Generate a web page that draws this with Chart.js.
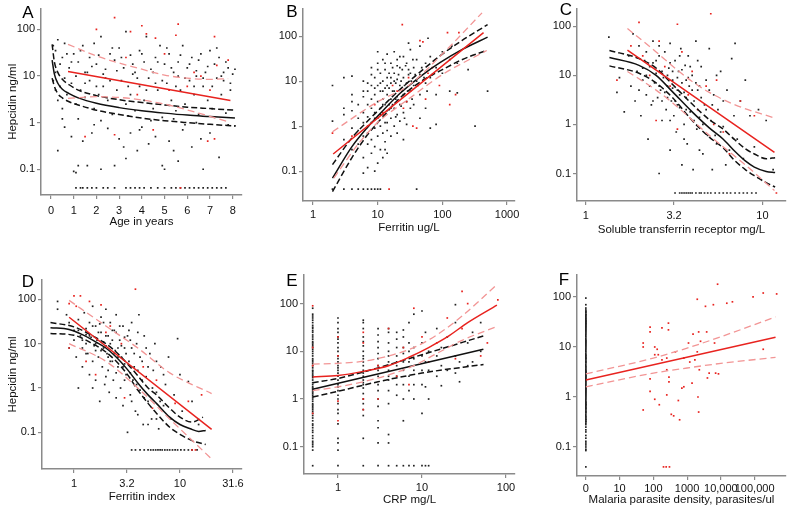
<!DOCTYPE html>
<html>
<head>
<meta charset="utf-8">
<script src="https://cdn.jsdelivr.net/npm/chart.js@4/dist/chart.umd.min.js"></script>
<style>
  body { margin: 0; background: #fff; }
  #wrap { position: relative; width: 790px; height: 508px; }
  #wrap canvas { position: absolute; left: 0; top: 0; }
</style>
</head>
<body>
<div id="wrap">
  <canvas id="pA" width="790" height="508"></canvas>
  <canvas id="pB" width="790" height="508"></canvas>
  <canvas id="pC" width="790" height="508"></canvas>
  <canvas id="pD" width="790" height="508"></canvas>
  <canvas id="pE" width="790" height="508"></canvas>
  <canvas id="pF" width="790" height="508"></canvas>
</div>
<script>
// shared hepcidin axis
const yTicks = [0.1, 1, 10, 100];
const yTickLabels = ['0.1', '1', '10', '100'];

// A: age
const ageTicks = [0, 1, 2, 3, 4, 5, 6, 7, 8];
const ageTickLabels = ['0', '1', '2', '3', '4', '5', '6', '7', '8'];
const aBlack = [
  [0.1,45],[0.2,35],[0.3,60],[0.5,25],[0.6,50],[0.8,15],[1.0,30],[1.2,20],[1.4,45],[1.5,12],[1.7,25],[1.9,50],
  [2.0,18],[2.2,70],[2.4,14],[2.6,30],[2.8,22],[3.0,40],[3.2,15],[3.3,90],[3.5,28],[3.7,12],[3.9,35],[4.1,20],
  [4.2,70],[4.4,14],[4.6,25],[4.8,45],[5.0,18],[5.2,30],[5.4,12],[5.6,20],[5.8,45],[6.0,15],[6.2,25],[6.4,10],
  [6.6,30],[6.8,12],[7.0,35],[7.2,18],[7.4,25],[7.6,12],[7.8,15],[8.0,11],
  [0.1,8],[0.2,5],[0.3,3],[0.4,6],[0.5,2],[0.7,4],[0.9,7],[1.1,2.5],[1.3,5],[1.5,3.5],[1.7,8],[1.9,2],[2.1,4],
  [2.3,6],[2.5,3],[2.7,1.5],[2.9,5],[3.1,8],[3.3,2.5],[3.5,4],[3.7,1.8],[3.9,6],[4.1,3],[4.3,9],[4.5,2],[4.7,5],
  [4.9,1.3],[5.1,7],[5.3,3],[5.5,1.8],[5.7,5],[5.9,2.5],[6.1,8],[6.3,4],[6.5,1.5],[6.7,6],[6.9,3],[7.1,2],[7.3,9],
  [7.5,4],[7.7,1.6],[7.9,5],[8.1,0.85],[1.6,12],[2.4,9],[3.6,11],[4.6,7],[5.6,10],[6.4,13],[7.6,8],
  [0.2,12],[0.4,18],[0.6,9],[0.7,30],[0.9,20],[1.1,10],[1.3,35],[1.5,7],[1.8,16],[2.0,6],[2.1,28],[2.3,11],[2.6,8],
  [2.7,40],[2.9,13],[3.1,25],[3.4,6],[3.6,18],[3.8,9],[4.0,30],[4.2,5],[4.5,12],[4.7,20],[4.9,8],[5.1,40],[5.3,15],
  [5.5,6],[5.7,28],[5.9,9],[6.1,18],[6.3,6],[6.5,22],[6.7,9],[6.9,16],[7.1,6],[7.3,40],[7.5,10],[7.7,20],[7.9,7],
  [8.1,14],[1.2,1.2],[2.2,1.1],[3.4,1.4],[4.4,1.1],[5.4,1.2],[6.4,1.0],[7.2,1.3],[0.5,1.2],[1.9,0.9],[3.9,0.7],[5.9,0.9],
  [0.3,0.25],[0.6,0.8],[0.9,0.5],[1.0,0.09],[1.1,0.085],[1.2,0.12],[1.4,0.4],[1.6,0.12],[1.8,0.6],[2.2,0.1],
  [2.5,0.75],[2.8,0.12],[3.0,0.45],[3.2,0.3],[3.3,0.17],[3.5,0.6],[3.8,0.25],[4.0,0.8],[4.3,0.35],[4.6,0.5],
  [4.9,0.12],[5.0,0.1],[5.2,0.4],[5.4,0.25],[5.6,0.15],[5.8,0.7],[6.2,0.3],[6.6,0.45],[6.7,0.1],[7.0,0.6],
  [7.4,0.18],[7.8,0.9],
  [1.1,0.04],[1.3,0.04],[1.4,0.04],[1.6,0.04],[1.8,0.04],[2.0,0.04],[2.3,0.04],[2.5,0.04],[2.8,0.04],[3.3,0.04],
  [3.5,0.04],[3.7,0.04],[3.9,0.04],[4.1,0.04],[4.4,0.04],[4.7,0.04],[5.0,0.04],[5.3,0.04],[5.5,0.04],[5.7,0.04],
  [5.9,0.04],[6.1,0.04],[6.3,0.04],[6.5,0.04],[6.7,0.04],[6.9,0.04],[7.1,0.04],[7.3,0.04],[7.5,0.04],[7.7,0.04]
];
const aRed = [
  [1.5,0.5],[2.0,100],[2.8,180],[3.3,25],[3.5,90],[4.0,120],[4.2,80],[4.6,65],[5.0,30],[5.5,75],[5.6,130],[6.0,6],
  [6.3,12],[6.6,10],[7.0,5],[7.2,70],[7.3,17],[7.8,22],[5.2,5],[2.8,0.55],[4.5,0.7],[6.9,0.4],[5.7,0.04],[7.2,0.45],[3.8,4]
];
const aFit = [[0.05,22],[0.15,11],[0.3,7],[0.5,5.2],[0.8,4.2],[1.2,3.4],[2,2.6],[3,2.1],[4,1.8],[5,1.6],[6,1.45],[7,1.35],[8.1,1.25]];
const aFitHi = [[0.05,48],[0.15,20],[0.3,12],[0.5,8.5],[0.8,6.5],[1.2,5],[2,3.8],[3,3.1],[4,2.7],[5,2.4],[6,2.15],[7,2],[8.1,1.85]];
const aFitLo = [[0.05,9],[0.15,6],[0.3,4.2],[0.5,3.4],[0.8,2.8],[1.2,2.4],[2,1.85],[3,1.5],[4,1.25],[5,1.1],[6,1.0],[7,0.92],[8.1,0.85]];
const aRedFit = [[0.75,12.5],[7.9,3.0]];
const aRedHi = [[0.75,48],[2,27],[3,19],[4,14],[5,10.5],[6,9],[7,8.5],[7.8,8.8]];
const aRedLo = [[0.75,3.3],[2,3.6],[3.5,3.3],[5,2.5],[6.5,1.6],[7.8,1.05]];

// B: ferritin
const ferritinTicks = [1, 10, 100, 1000];
const ferritinTickLabels = ['1', '10', '100', '1000'];
const bBlack = [
  [2,8],[2,1.3],[2,0.04],[3,12],[3,2.5],[3,1.8],[3,0.5],[3,0.04],[4,13],[4,5],[4,3.5],[4,2.2],[4,0.9],[4,0.3],[4,0.04],
  [5,3],[5,1.5],[5,0.8],[5,0.4],[5,0.04],[6,10],[6,4.5],[6,2],[6,1.2],[6,0.6],[6,0.2],[6,0.09],[6,0.04],
  [7,6],[7,3],[7,1.6],[7,0.7],[7,0.12],[7,0.04],[8,20],[8,8],[8,4],[8,2.5],[8,1.2],[8,0.5],[8,0.04],
  [9,12],[9,5],[9,2],[9,0.9],[9,0.35],[9,0.1],[9,0.04],[10,45],[10,25],[10,8],[10,3.5],[10,1.5],[10,0.6],[10,0.15],[10,0.04],
  [11,15],[11,6],[11,2.5],[11,1],[11,0.3],[11,0.04],[12,30],[12,10],[12,4],[12,1.8],[12,0.7],[12,0.2],
  [13,18],[13,7],[13,3],[13,1.2],[13,0.45],[14,40],[14,12],[14,5],[14,2.2],[14,0.8],[14,0.25],
  [16,25],[16,9],[16,4],[16,1.5],[16,0.6],[18,45],[18,15],[18,6],[18,2.5],[18,1],[20,30],[20,11],[20,4.5],[20,1.8],[20,0.7],
  [22,20],[22,8],[22,3],[22,1.3],[25,35],[25,12],[25,5],[25,2],[25,0.5],[28,25],[28,9],[28,3.5],[28,1.1],
  [32,50],[32,15],[32,6],[32,2.5],[36,20],[36,8],[36,3],[40,30],[40,10],[40,0.04],[45,60],[45,14],[45,5],[45,1.5],
  [55,25],[55,9],[55,2.5],[65,35],[65,12],[65,0.9],[80,20],[80,5],[80,1.1],[100,45],[100,15],[130,30],[130,6],
  [170,25],[170,5.5],[250,18],[320,1],[500,6],[30,70],[60,90],[140,60],[15,7],[17,3],[19,9],[24,6],[30,14],[34,4],
  [6,6],[7,9],[8,14],[9,7],[10,18],[11,9],[12,6],[13,25],[14,8],[15,15],[15,3],[16,12],[17,20],[17,6],[18,10],[19,4],
  [20,22],[21,14],[22,35],[23,10],[24,18],[26,8],[27,22],[29,6],[30,18],[33,10],[35,30],[38,14],[42,8],[48,20],[52,12],
  [58,6],[70,14],[12,3],[9,1.5],[11,1.8],[14,1.2],[16,2.5],[19,1.6],[23,2.8],[26,1.5],[13,0.3],[8,0.25],[7,0.4]
];
const bRed = [
  [2,0.7],[4,0.6],[7,1],[9,3],[12,2],[15,0.04],[17,8],[20,6],[24,180],[25,2.5],[30,12],[35,1],[40,0.9],[45,80],[50,75],
  [55,4],[70,20],[90,8],[120,120],[130,3],[160,5],[180,120],[60,15],[28,3.5]
];
const bFit = [[2,0.07],[4,0.35],[7,0.95],[12,2.2],[22,5.3],[50,14],[93,26],[200,50],[500,95]];
const bFitHi = [[2,0.14],[4,0.55],[7,1.3],[12,2.8],[22,6.5],[50,18],[100,40],[200,80],[500,180]];
const bFitLo = [[2,0.035],[4,0.2],[7,0.65],[12,1.6],[22,4.2],[50,10.5],[100,18],[200,30],[480,48]];
const bRedFit = [[2.05,0.24],[433,120]];
const bRedHi = [[2,0.75],[10,3.5],[30,8],[100,40],[410,330]];
const bRedLo = [[2.1,0.07],[5,0.4],[10,1.2],[30,4],[100,14],[485,48]];

// C: soluble transferrin receptor
const stfrTicks = [1, 3.16, 10];
const stfrTickLabels = ['1', '3.2', '10'];
const cBlack = [
  [1.35,60],[1.5,4.5],[1.55,9],[1.65,1.8],[1.75,25],[1.8,6],[1.85,70],[1.9,3],[1.95,12],[2.0,40],[2.05,1.5],[2.1,8],
  [2.15,20],[2.2,4],[2.25,0.5],[2.3,15],[2.35,2.5],[2.4,50],[2.45,7],[2.5,11],[2.55,3.5],[2.6,0.1],[2.6,25],[2.65,5],
  [2.7,1.2],[2.75,9],[2.8,30],[2.85,2],[2.9,6],[2.95,14],[3.0,0.3],[3.0,45],[3.05,3],[3.1,8],[3.15,1.5],[3.2,20],
  [3.25,0.7],[3.3,5],[3.35,12],[3.4,2.2],[3.45,35],[3.5,0.15],[3.5,7],[3.6,1],[3.65,16],[3.7,3.5],[3.75,0.4],[3.8,25],
  [3.85,6],[3.9,1.8],[4.0,10],[4.05,0.12],[4.1,3],[4.2,50],[4.25,0.8],[4.3,5],[4.4,1.4],[4.5,15],[4.6,0.25],[4.7,2.5],
  [4.8,8],[4.9,0.6],[5.0,35],[5.1,1.2],[5.2,0.12],[5.3,4],[5.5,0.4],[5.6,2],[5.8,12],[6.0,0.9],[6.2,0.15],[6.3,5],
  [6.5,0.3],[6.7,22],[6.9,1.5],[7.0,45],[7.2,0.5],[7.5,3],[7.8,0.2],[8.0,8],[8.5,1.5],[9.0,0.35],[9.5,2],[10.5,1.2],
  [11.5,0.12],[2.2,10],[2.6,6],[2.9,3.5],[3.1,12],[3.4,4],[3.7,8],[2.4,18],[2.7,3],[3.3,2.5],[4.4,6],
  [2.0,5],[2.1,14],[2.3,6],[2.4,3],[2.5,20],[2.7,12],[2.8,4.5],[2.9,10],[3.0,18],[3.1,5.5],[3.2,3],[3.3,9],[3.4,25],
  [3.5,13],[3.6,4.5],[3.7,2],[3.8,9],[3.9,15],[4.0,5],[4.1,1.2],[4.2,7],[4.3,20],[4.5,3.5],[4.6,1],[4.8,2],[5.0,5],
  [5.2,2.5],[5.5,10],[5.8,0.7],[6.0,3],[2.2,30],[2.6,40],[3.0,1.2],[3.6,0.5],[4.4,0.3],[5.4,0.6],
  [3.2,0.04],[3.4,0.04],[3.5,0.04],[3.6,0.04],[3.7,0.04],[3.8,0.04],[3.9,0.04],[4.0,0.04],[4.2,0.04],[4.4,0.04],[4.5,0.04],
  [4.7,0.04],[4.9,0.04],[5.1,0.04],[5.4,0.04],[5.7,0.04],[6.0,0.04],[6.3,0.04],[6.6,0.04],[7.0,0.04],[7.4,0.04],[7.8,0.04],
  [8.2,0.04],[8.7,0.04],[9.2,0.04]
];
const cRed = [
  [1.5,8],[1.8,40],[2.0,120],[2.1,25],[2.3,10],[2.6,50],[2.8,15],[3.0,6],[3.3,110],[3.5,30],[3.8,4],[4.0,12],[4.3,2],
  [4.8,6],[5.1,180],[5.3,1],[5.5,8],[6.0,0.7],[6.5,0.25],[7.5,3],[9.0,1.5],[12,0.04],[2.5,1.2],[3.3,0.8]
];
const cFit = [[1.36,23],[2,16],[2.5,10],[3.1,4.6],[4,1.8],[5,0.85],[6,0.5],[7,0.28],[8,0.18],[9,0.135],[10.5,0.11],[11.8,0.105]];
const cFitHi = [[1.36,32],[2,22],[2.5,14],[3.1,6.5],[4,2.6],[5,1.25],[6,0.8],[7,0.48],[8,0.32],[9,0.25],[10.5,0.2],[11.8,0.21]];
const cFitLo = [[1.36,15.6],[2,11],[2.5,7],[3.1,3.5],[4,1.2],[5,0.55],[6,0.33],[7,0.18],[8,0.12],[9,0.09],[10.5,0.065],[11.8,0.053]];
const cRedFit = [[1.72,32.7],[11.7,0.27]];
const cRedHi = [[1.72,90],[2.5,30],[3.2,14],[4,7.5],[5,4.5],[7,2.5],[11.7,1.35]];
const cRedLo = [[1.72,12],[2.5,5],[3.2,2.5],[5,0.6],[8,0.15],[11.7,0.045]];

// D: ferritin index
const indexTicks = [1, 3.16, 10, 31.6];
const indexTickLabels = ['1', '3.2', '10', '31.6'];
const dBlack = [
  [0.7,90],[0.7,60],[0.85,45],[0.9,30],[0.9,8],[1.0,20],[1.0,12],[1.05,5],[1.1,1.0],[1.1,35],[1.15,15],[1.2,8],[1.2,3],
  [1.25,50],[1.3,22],[1.3,10],[1.35,6],[1.4,2],[1.4,30],[1.45,14],[1.5,4],[1.5,70],[1.55,9],[1.6,1.5],[1.6,25],[1.65,12],
  [1.7,5],[1.75,0.5],[1.8,40],[1.8,18],[1.85,3],[1.9,8],[1.95,1.2],[2.0,60],[2.0,15],[2.05,6],[2.1,2.5],[2.15,0.8],
  [2.2,30],[2.2,10],[2.3,4],[2.35,1.5],[2.4,20],[2.45,7],[2.5,0.6],[2.5,45],[2.6,3],[2.7,12],[2.75,1],[2.8,5],[2.9,25],
  [2.9,0.4],[3.0,8],[3.1,2],[3.2,0.1],[3.2,15],[3.3,4],[3.4,0.7],[3.5,30],[3.6,1.5],[3.7,6],[3.8,0.3],[3.9,10],[4.0,2.5],
  [4.1,45],[4.2,0.9],[4.4,4],[4.5,0.15],[4.6,15],[4.8,1.8],[5.0,0.5],[5.2,6],[5.4,0.2],[5.6,2.5],[5.8,10],[6.0,0.8],
  [6.3,0.12],[6.6,3],[7.0,0.4],[7.3,1.2],[7.8,5],[8.2,0.2],[8.8,0.7],[9.5,13],[10,2],[10.5,0.3],[12,1.4],[13,0.5],[15,0.15],
  [1.3,16],[1.6,7],[1.9,11],[2.3,20],[2.6,8],[3.0,3.5],[3.4,12],[2.1,5],[1.75,28],
  [1.1,20],[1.2,12],[1.3,6],[1.4,15],[1.5,25],[1.6,10],[1.7,18],[1.8,7],[1.9,30],[2.0,9],[2.1,15],[2.2,4],[2.3,12],
  [2.4,6],[2.5,18],[2.6,5],[2.7,25],[2.8,9],[2.9,3],[3.0,14],[3.1,6],[3.3,20],[3.4,2.2],[3.5,8],[3.7,3],[3.9,1.2],
  [4.0,18],[4.2,5],[4.4,1.5],[4.6,0.6],[4.8,8],[5.0,3],[5.5,1],[6.0,4],[6.5,0.5],[7.0,2],[1.5,1],[2.0,1.8],[2.5,2.2],
  [3.0,1.5],[3.5,0.5],[4.0,0.25],[5.0,0.15],[6.0,0.2],
  [3.5,0.04],[3.8,0.04],[4.2,0.04],[4.6,0.04],[5.0,0.04],[5.3,0.04],[5.6,0.04],[5.9,0.04],[6.2,0.04],[6.5,0.04],[6.8,0.04],
  [7.2,0.04],[7.6,0.04],[8.0,0.04],[8.5,0.04],[9.0,0.04],[9.5,0.04],[10.2,0.04],[11,0.04],[12,0.04],[13,0.04],[14.5,0.04]
];
const dRed = [
  [0.9,80],[1.0,120],[1.05,70],[1.15,120],[1.4,90],[1.8,75],[2.2,25],[3.8,170],[0.9,8],[1.3,4],[1.6,2],[2.8,10],[3.0,0.6],
  [4.5,3],[5.5,0.35],[6,1.5],[9,0.45],[12,0.5],[14,0.04],[16,0.7],[13,0.04],[2.0,18]
];
const dFit = [[0.6,23],[0.9,21],[1.2,16],[1.6,11],[2,8],[2.5,5],[3.2,2.6],[4,1.3],[5,0.7],[6,0.45],[8,0.22],[10,0.15],[12.5,0.12],[15,0.105],[17.5,0.11]];
const dFitHi = [[0.6,30],[1,24],[1.5,15],[2,10],[2.5,6.5],[3.2,3.5],[4,1.9],[5,1.0],[6,0.7],[8,0.35],[10,0.22],[13,0.17],[16.5,0.22]];
const dFitLo = [[0.6,17],[1,15.5],[1.5,10],[2,6.5],[2.5,4],[3.2,2],[4,0.9],[5,0.45],[6,0.27],[8,0.13],[10,0.09],[13,0.065],[17.5,0.053]];
const dRedFit = [[0.9,39.5],[19.9,0.117]];
const dRedHi = [[0.9,95],[2,25],[4,8],[8,2.2],[19.9,0.75]];
const dRedLo = [[0.9,10],[2,4],[4,1],[8,0.2],[19.9,0.025]];

// E: CRP
const crpTicks = [1, 10, 100];
const crpTickLabels = ['1', '10', '100'];
const eBlack = [
  [0.5,0.04],[0.5,0.085],[0.5,0.1],[0.5,0.12],[0.5,0.15],[0.5,0.2],[0.5,0.25],[0.5,0.3],[0.5,0.4],[0.5,0.5],[0.5,0.6],
  [0.5,0.7],[0.5,0.8],[0.5,1],[0.5,1.2],[0.5,1.5],[0.5,1.8],[0.5,2],[0.5,2.5],[0.5,3],[0.5,3.5],[0.5,4],[0.5,5],[0.5,6],
  [0.5,7],[0.5,8],[0.5,10],[0.5,12],[0.5,15],[0.5,18],[0.5,20],[0.5,25],[0.5,30],[0.5,35],[0.5,40],[0.5,50],[0.5,60],[0.5,80],
  [0.5,0.9],[0.5,1.1],[0.5,1.4],[0.5,1.7],[0.5,2.2],[0.5,2.8],[0.5,4.5],[0.5,9],[0.5,14],[0.5,0.35],[0.5,0.45],
  [0.5,0.11],[0.5,0.13],[0.5,0.17],[0.5,0.22],[0.5,0.28],[0.5,0.55],[0.5,0.65],[0.5,0.75],[0.5,1.3],[0.5,1.6],[0.5,3.2],
  [0.5,3.8],[0.5,5.5],[0.5,6.5],[0.5,11],[0.5,13],[0.5,16],[0.5,22],[0.5,27],[0.5,32],[0.5,45],[0.5,55],
  [1,0.04],[1,0.085],[1,0.12],[1,0.15],[1,0.3],[1,0.5],[1,0.6],[1,0.8],[1,1],[1,1.2],[1,1.5],[1,2],[1,2.5],[1,3],[1,4],
  [1,5],[1,6],[1,8],[1,10],[1,12],[1,15],[1,20],[1,25],[1,30],[1,40],[1,50],[1,3.5],[1,4.5],[1,7],[1,1.8],[1,18],
  [2,0.04],[2,0.15],[2,0.45],[2,0.6],[2,0.8],[2,1],[2,1.3],[2,1.7],[2,2],[2,2.5],[2,3],[2,4],[2,5],[2,6],[2,8],[2,10],
  [2,13],[2,16],[2,20],[2,30],[2,40],[2,45],[2,3.5],[2,2.2],[2,7],
  [3,0.04],[3,0.12],[3,0.25],[3,0.35],[3,0.7],[3,1],[3,1.5],[3,2],[3,3],[3,4],[3,5],[3,7],[3,9],[3,12],[3,16],[3,22],[3,30],
  [4,0.04],[4,0.12],[4,0.18],[4,0.8],[4,1.5],[4,2.5],[4,3],[4,4],[4,6],[4,8],[4,10],[4,15],[4,25],[4,30],
  [5,0.04],[5,1.2],[5,2],[5,3],[5,5],[5,6],[5,8],[5,12],[5,18],[5,25],
  [6,0.04],[6,0.35],[6,1],[6,2],[6,4],[6,6],[6,9],[6,12],[6,20],[6,28],
  [7,0.04],[7,1.5],[7,3],[7,6],[7,10],[7,15],[7,40],[8,0.04],[8,1],[8,2],[8,4],[8,7],[8,12],[8,60],
  [10,0.04],[10,0.5],[10,2],[10,4],[10,8],[10,15],[10,70],[11,0.04],[11,1.8],[11,6],[11,25],[12,0.04],[12,1],[12,4],[12,10],
  [15,3],[15,8],[15,30],[17,1.9],[17,5],[17,12],[20,4],[20,20],[25,3.5],[25,8],[25,95],[25,40],[28,2.3],[28,6],
  [35,5],[35,15],[40,6],[40,25],[50,10],[50,40]
];
const eRed = [
  [0.5,90],[0.5,12],[0.5,0.5],[0.5,5],[1,0.35],[1,20],[1,8],[1,0.9],[2,1],[2,25],[2,0.6],[2,15],[3,1],[3,5],[4,30],
  [5,3],[6,12],[7,2],[8,80],[10,20],[12,6],[15,15],[20,50],[25,7],[30,180],[30,30],[35,100],[50,8],[80,120],[60,15]
];
const eFit = [[0.5,1.6],[53.8,11]];
const eFitHi = [[0.5,2.2],[1,2.7],[3,4.5],[10,8.5],[54,21]];
const eFitLo = [[0.5,1.1],[1,1.45],[3,2.3],[10,3.5],[54,5.3]];
const eRedFit = [[0.5,2.9],[1,3.1],[2,3.8],[4,5],[7,7.5],[12,12],[20,20],[35,40],[78,93]];
const eRedHi = [[0.5,5.4],[1,5.6],[2,6.2],[4,8],[8,12],[15,22],[30,55],[78,250]];
const eRedLo = [[0.5,1.5],[1,1.8],[2,2.3],[4,3.2],[8,5],[15,9],[30,17],[78,33]];

// F: malaria parasite density (0 drawn at 1)
const densityTicks = [1, 10, 100, 1000, 10000, 100000];
const densityTickLabels = ['0', '10', '100', '1000', '10,000', '100,000'];
const fBlack = [
  [1,0.04],[1,0.085],[1,0.09],[1,0.1],[1,0.11],[1,0.12],[1,0.13],[1,0.15],[1,0.17],[1,0.2],[1,0.22],[1,0.25],[1,0.28],
  [1,0.3],[1,0.33],[1,0.35],[1,0.38],[1,0.4],[1,0.45],[1,0.5],[1,0.55],[1,0.6],[1,0.65],[1,0.7],[1,0.75],[1,0.8],[1,0.9],
  [1,1],[1,1.1],[1,1.2],[1,1.3],[1,1.4],[1,1.5],[1,1.6],[1,1.8],[1,2],[1,2.2],[1,2.5],[1,2.8],[1,3],[1,3.3],[1,3.6],[1,4],
  [1,4.5],[1,5],[1,5.5],[1,6],[1,6.5],[1,7],[1,8],[1,9],[1,10],[1,11],[1,12],[1,13],[1,14],[1,16],[1,18],[1,20],[1,22],
  [1,25],[1,28],[1,30],[1,33],[1,35],[1,40],[1,45],[1,50],[1,55],[1,60],[1,70],[1,95],
  [1,0.32],[1,0.36],[1,0.42],[1,0.48],[1,0.52],[1,0.58],[1,0.62],[1,0.68],[1,0.72],[1,0.78],[1,0.85],[1,0.95],[1,1.05],
  [1,1.15],[1,1.25],[1,1.35],[1,1.45],[1,1.55],[1,1.7],[1,1.9],[1,2.1],[1,2.3],[1,2.4],[1,2.6],[1,2.7],[1,2.9],[1,3.1],
  [1,3.2],[1,3.4],[1,3.8],[1,4.2],[1,4.8],[1,5.2],[1,5.8],[1,6.2],[1,6.8],[1,7.5],[1,8.5],[1,9.5],[1,10.5],[1,11.5],
  [1,12.5],[1,13.5],[1,15],[1,17],[1,19],[1,21],[1,23],[1,24],[1,26],[1,27],[1,29],[1,31],[1,32],[1,34],[1,37],[1,38],
  [1,42],[1,44],[1,48],[1,52]
];
const fRed = [
  [50,12],[50,10],[50,0.55],[80,25],[80,20],[80,2.3],[80,1.3],[110,10],[110,7],[110,0.9],[130,9],[140,7],[150,0.7],
  [180,24],[180,5.5],[200,0.04],[240,0.04],[250,6],[250,3.5],[280,30],[280,22],[290,2.5],[290,2],[300,0.04],[250,1.1],
  [340,0.45],[400,0.42],[450,8],[600,0.35],[550,0.85],[700,1.5],[800,1.6],[800,6],[1100,12],[1200,5],[1400,1.9],
  [1500,18],[1700,5.5],[2000,90],[2000,8],[2100,1],[2200,0.5],[2200,20],[2300,3.5],[2500,13],[3800,20],[3500,65],
  [4000,2.4],[4500,3],[6000,70],[6500,12],[7000,3],[8000,180],[8500,2.9],[15000,75],[22000,80],[90000,100],
  [180000,9],[180000,120],[450000,115]
];
const fRedFit = [[1,2.19],[417000,15.6]];
const fRedHi = [[1,2.9],[100,6],[1000,9.5],[10000,16],[417000,40]];
const fRedLo = [[1,1.6],[100,3],[1000,3.8],[10000,4.7],[417000,6.2]];

const FONT = '"Liberation Sans", Arial, Helvetica, sans-serif';
const AXIS = '#8a8a8a';

const letterPlugin = {
    id: 'panelLetter',
    afterDraw(chart, args, opts) {
        const ctx = chart.ctx;
        ctx.save();
        ctx.font = '17px ' + FONT;
        ctx.fillStyle = '#000';
        ctx.textAlign = 'center';
        ctx.textBaseline = 'middle';
        ctx.fillText(opts.text, opts.x, opts.y);
        ctx.restore();
    }
};

function pts(arr) {
    return arr.map(p => ({x: p[0], y: p[1]}));
}

function dots(arr, color) {
    return {data: pts(arr), showLine: false, pointStyle: 'rect', pointRadius: 1.2, pointBorderWidth: 0,
        backgroundColor: color, borderColor: color};
}

function curve(arr, color, dash, width) {
    return {data: pts(arr), showLine: true, pointRadius: 0, borderColor: color, borderWidth: width,
        borderDash: dash, cubicInterpolationMode: 'monotone', fill: false};
}

function makePanel(id, p) {
    const yW = p.yTitle ? p.left : 40;
    const xH = p.titleY - p.bottom + 7;
    new Chart(document.getElementById(id), {
        type: 'scatter',
        data: {datasets: p.datasets},
        options: {
            responsive: false,
            animation: false,
            events: [],
            layout: {padding: {left: p.left - yW, top: p.top, right: 790 - p.right, bottom: 508 - p.bottom - xH}},
            plugins: {
                legend: {display: false},
                tooltip: {enabled: false},
                panelLetter: p.letter
            },
            scales: {
                x: {
                    type: p.xType,
                    min: p.xMin,
                    max: p.xMax,
                    afterBuildTicks: s => { s.ticks = p.xTicks.map(v => ({value: v})); },
                    afterFit: s => { s.height = xH; },
                    grid: {display: true, drawOnChartArea: false, drawTicks: true, tickLength: 4, color: AXIS, lineWidth: 1.2},
                    border: {display: true, color: AXIS, width: 1.5},
                    ticks: {
                        autoSkip: false, maxRotation: 0, color: '#111', padding: p.tickPad,
                        font: {family: FONT, size: 11},
                        callback: (v, i) => p.xLabels[i]
                    },
                    title: {display: true, text: p.xTitle, color: '#111', padding: 0, font: {family: FONT, size: 11.5}}
                },
                y: {
                    type: 'logarithmic',
                    min: p.yMin,
                    max: p.yMax,
                    afterBuildTicks: s => { s.ticks = yTicks.map(v => ({value: v})); },
                    afterFit: s => { s.width = yW; },
                    grid: {display: true, drawOnChartArea: false, drawTicks: true, tickLength: 4, color: AXIS, lineWidth: 1.2},
                    border: {display: true, color: AXIS, width: 1.5},
                    ticks: {
                        autoSkip: false, color: '#111', padding: 2,
                        font: {family: FONT, size: 11},
                        callback: (v, i) => yTickLabels[i]
                    },
                    title: {display: !!p.yTitle, text: p.yTitle || '', color: '#111', padding: {top: 6, bottom: 0},
                        font: {family: FONT, size: 11.5}}
                }
            }
        },
        plugins: [letterPlugin]
    });
}

const BLACK = '#111';
const RED = '#e8231f';
const PINK = '#f29595';

function panelSets(black, red, fit, lo, hi, rfit, rlo, rhi) {
    const sets = [];
    if (rfit) sets.push(curve(rfit, RED, [], 1.5));
    if (rhi) sets.push(curve(rhi, PINK, [7, 4], 1.3));
    if (rlo) sets.push(curve(rlo, PINK, [7, 4], 1.3));
    if (fit) sets.push(curve(fit, BLACK, [], 1.5));
    if (hi) sets.push(curve(hi, BLACK, [6, 3], 1.5));
    if (lo) sets.push(curve(lo, BLACK, [6, 3], 1.5));
    sets.push(dots(red, RED));
    sets.push(dots(black, '#222'));
    return sets;
}

makePanel('pA', {
    left: 41, top: 7, right: 242, bottom: 195, titleY: 222, tickPad: 5,
    xType: 'linear', xMin: -0.44, xMax: 8.41, yMin: 0.028, yMax: 280,
    xTicks: ageTicks, xLabels: ageTickLabels, xTitle: 'Age in years', yTitle: 'Hepcidin ng/ml',
    letter: {text: 'A', x: 28, y: 13},
    datasets: panelSets(aBlack, aRed, aFit, aFitLo, aFitHi, aRedFit, aRedLo, aRedHi)
});
makePanel('pB', {
    left: 303, top: 5, right: 515, bottom: 201, titleY: 228, tickPad: 3,
    xType: 'logarithmic', xMin: 0.728, xMax: 1327, yMin: 0.0217, yMax: 410,
    xTicks: ferritinTicks, xLabels: ferritinTickLabels, xTitle: 'Ferritin ug/L',
    letter: {text: 'B', x: 292, y: 12},
    datasets: panelSets(bBlack, bRed, bFit, bFitLo, bFitHi, bRedFit, bRedLo, bRedHi)
});
makePanel('pC', {
    left: 577, top: 5, right: 790, bottom: 201, titleY: 230, tickPad: 4,
    xType: 'logarithmic', xMin: 0.891, xMax: 13.6, yMin: 0.0275, yMax: 229,
    xTicks: stfrTicks, xLabels: stfrTickLabels, xTitle: 'Soluble transferrin receptor mg/L',
    letter: {text: 'C', x: 566, y: 10},
    datasets: panelSets(cBlack, cRed, cFit, cFitLo, cFitHi, cRedFit, cRedLo, cRedHi)
});
makePanel('pD', {
    left: 42, top: 280, right: 242, bottom: 469, titleY: 497, tickPad: 4,
    xType: 'logarithmic', xMin: 0.499, xMax: 38.5, yMin: 0.01486, yMax: 274,
    xTicks: indexTicks, xLabels: indexTickLabels, xTitle: 'Ferritin index', yTitle: 'Hepcidin ng/ml',
    letter: {text: 'D', x: 28, y: 282},
    datasets: panelSets(dBlack, dRed, dFit, dFitLo, dFitHi, dRedFit, dRedLo, dRedHi)
});
makePanel('pE', {
    left: 304, top: 275, right: 515, bottom: 474, titleY: 500, tickPad: 3,
    xType: 'logarithmic', xMin: 0.394, xMax: 128, yMin: 0.0268, yMax: 398,
    xTicks: crpTicks, xLabels: crpTickLabels, xTitle: 'CRP mg/L',
    letter: {text: 'E', x: 292, y: 281},
    datasets: panelSets(eBlack, eRed, eFit, eFitLo, eFitHi, eRedFit, eRedLo, eRedHi)
});
makePanel('pF', {
    left: 577, top: 275, right: 790, bottom: 476, titleY: 500, tickPad: 2,
    xType: 'logarithmic', xMin: 0.547, xMax: 851000, yMin: 0.0263, yMax: 275,
    xTicks: densityTicks, xLabels: densityTickLabels, xTitle: 'Malaria parasite density, parasites/ul',
    letter: {text: 'F', x: 564, y: 280},
    datasets: panelSets(fBlack, fRed, null, null, null, fRedFit, fRedLo, fRedHi)
});
</script>
</body>
</html>
